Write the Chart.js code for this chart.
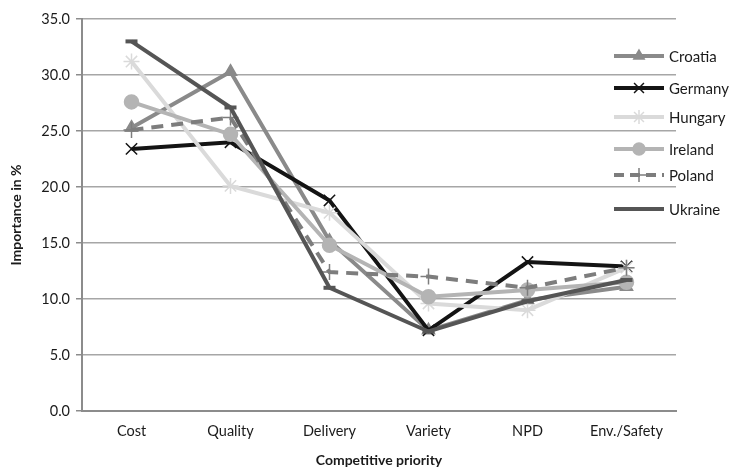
<!DOCTYPE html>
<html>
<head>
<meta charset="utf-8">
<script src="https://cdn.jsdelivr.net/npm/chart.js@4"></script>
<style>
  html, body { margin: 0; padding: 0; background: #fff; }
  #wrap { width: 740px; height: 473px; }
</style>
</head>
<body>
<div id="wrap"><canvas id="c" width="740" height="473"></canvas></div>
<script>
const categories = ['Cost', 'Quality', 'Delivery', 'Variety', 'NPD', 'Env./Safety'];
const yTicks = [0, 5, 10, 15, 20, 25, 30, 35];

const croatia = [25.3, 30.3, 15.2, 7.2, 9.9, 11.1];
const germany = [23.4, 24.0, 18.8, 7.2, 13.3, 12.9];
const hungary = [31.2, 20.1, 17.7, 9.6, 9.0, 12.8];
const ireland = [27.6, 24.7, 14.8, 10.2, 10.8, 11.5];
const poland  = [25.1, 26.2, 12.4, 12.0, 11.0, 12.8];
const ukraine = [33.0, 27.1, 11.0, 7.1, 9.8, 11.7];

const FONT = 'Lato, "Open Sans", sans-serif';

function series(label, data, color, style, extra) {
  return Object.assign({
    label, data,
    borderColor: color,
    backgroundColor: color,
    borderWidth: 4,
    pointStyle: style,
    pointRadius: 7,
    pointHoverRadius: 7,
    pointBorderColor: color,
    pointBackgroundColor: color,
    pointBorderWidth: 1.5,
    tension: 0,
    fill: false
  }, extra || {});
}

const datasets = [
  series('Croatia', croatia, '#8a8a8a', 'triangle', { pointRadius: 7 }),
  series('Germany', germany, '#141414', 'crossRot', { pointRadius: 8, pointBorderWidth: 1.5 }),
  series('Hungary', hungary, '#dadada', 'star', { pointRadius: 8, pointBorderWidth: 1.5 }),
  series('Ireland', ireland, '#b4b4b4', 'circle', { pointRadius: 7 }),
  series('Poland', poland, '#7d7d7d', 'cross', { borderDash: [12, 8], pointRadius: 8, pointBorderWidth: 1.5 }),
  series('Ukraine', ukraine, '#555555', 'line', { pointRadius: 6, pointBorderWidth: 4 })
];
// later series paint over earlier ones
datasets.forEach((d, i) => { d.order = datasets.length - i; });

// legend drawn inside the plot's right edge, one row per country
const legendRows = [56, 88, 117, 149, 175, 209];
const sideLegend = {
  id: 'sideLegend',
  afterDraw(chart) {
    const ctx = chart.ctx;
    chart.data.datasets.forEach((ds, i) => {
      const y = legendRows[i];
      const x0 = 614, x1 = 664;
      ctx.save();
      ctx.strokeStyle = ds.borderColor;
      ctx.fillStyle = ds.borderColor;
      ctx.lineWidth = 4;
      ctx.setLineDash(ds.borderDash ? [10, 6] : []);
      ctx.beginPath();
      ctx.moveTo(x0, y);
      ctx.lineTo(x1, y);
      ctx.stroke();
      ctx.setLineDash([]);
      if (ds.pointStyle !== 'line') {
        ctx.lineWidth = 1.5;
        Chart.helpers.drawPoint(ctx, {
          pointStyle: ds.pointStyle,
          radius: ds.pointRadius - 1,
          borderWidth: 1.5,
          rotation: 0
        }, (x0 + x1) / 2, y);
      }
      ctx.fillStyle = '#1a1a1a';
      ctx.font = '15px ' + FONT;
      ctx.textBaseline = 'middle';
      ctx.textAlign = 'left';
      ctx.fillText(ds.label, 669, y + 1);
      ctx.restore();
    });
  }
};

new Chart(document.getElementById('c'), {
  type: 'line',
  data: { labels: categories, datasets },
  plugins: [sideLegend],
  options: {
    responsive: false,
    animation: false,
    events: [],
    layout: { padding: { top: 19, right: 64, left: 4, bottom: 0 } },
    plugins: { legend: { display: false }, tooltip: { enabled: false } },
    scales: {
      x: {
        offset: true,
        grid: { display: false, drawTicks: false },
        border: { color: '#8c8c8c', width: 2 },
        ticks: { color: '#1a1a1a', font: { family: FONT, size: 14.5 }, padding: 12 },
        title: {
          display: true, text: 'Competitive priority', color: '#1a1a1a',
          font: { family: FONT, size: 14, weight: 'bold' }, padding: { top: 9 }
        },
        afterFit(s) { s.height = 62; }
      },
      y: {
        min: 0, max: 35,
        afterBuildTicks(s) { s.ticks = yTicks.map(v => ({ value: v })); },
        grid: { color: '#a6a6a6', lineWidth: 1.5, tickLength: 6, tickColor: '#8c8c8c' },
        border: { color: '#8c8c8c', width: 2 },
        ticks: {
          color: '#1a1a1a', font: { family: FONT, size: 14.5 }, padding: 6,
          callback: v => Number(v).toFixed(1)
        },
        title: {
          display: true, text: 'Importance in %', color: '#1a1a1a',
          font: { family: FONT, size: 14, weight: 'bold' }, padding: { bottom: 8 }
        },
        afterFit(s) { s.width = 78; }
      }
    }
  }
});
</script>
</body>
</html>
